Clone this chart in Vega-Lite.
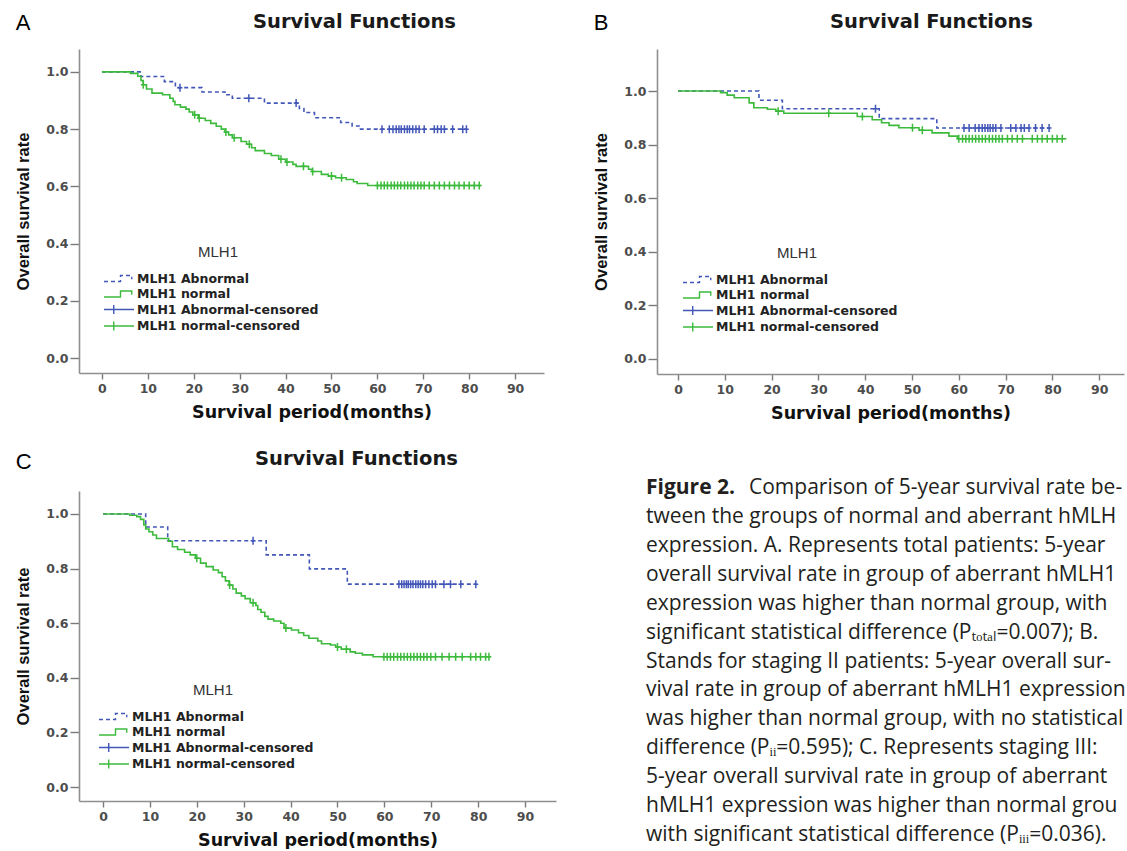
{
"$schema": "https://vega.github.io/schema/vega-lite/v6.json",
"background": "white",
"padding": {"left": 15, "top": 11, "right": 0, "bottom": 0},
"datasets": {
"km": [
{"panel":"A","series":"MLH1 Abnormal","time":0,"surv":1},
{"panel":"A","series":"MLH1 Abnormal","time":8.5,"surv":0.984},
{"panel":"A","series":"MLH1 Abnormal","time":13.6,"surv":0.966},
{"panel":"A","series":"MLH1 Abnormal","time":16,"surv":0.945},
{"panel":"A","series":"MLH1 Abnormal","time":21.8,"surv":0.93},
{"panel":"A","series":"MLH1 Abnormal","time":26.8,"surv":0.92},
{"panel":"A","series":"MLH1 Abnormal","time":28.4,"surv":0.908},
{"panel":"A","series":"MLH1 Abnormal","time":35.4,"surv":0.891},
{"panel":"A","series":"MLH1 Abnormal","time":43,"surv":0.872},
{"panel":"A","series":"MLH1 Abnormal","time":44,"surv":0.858},
{"panel":"A","series":"MLH1 Abnormal","time":46.3,"surv":0.84},
{"panel":"A","series":"MLH1 Abnormal","time":52,"surv":0.823},
{"panel":"A","series":"MLH1 Abnormal","time":54.5,"surv":0.811},
{"panel":"A","series":"MLH1 Abnormal","time":56,"surv":0.8},
{"panel":"A","series":"MLH1 Abnormal","time":79.4,"surv":0.8},
{"panel":"A","series":"MLH1 Abnormal-censored","time":17,"surv":0.945},
{"panel":"A","series":"MLH1 Abnormal-censored","time":32,"surv":0.908},
{"panel":"A","series":"MLH1 Abnormal-censored","time":42.3,"surv":0.891},
{"panel":"A","series":"MLH1 Abnormal-censored","time":61,"surv":0.8},
{"panel":"A","series":"MLH1 Abnormal-censored","time":62.6,"surv":0.8},
{"panel":"A","series":"MLH1 Abnormal-censored","time":63.4,"surv":0.8},
{"panel":"A","series":"MLH1 Abnormal-censored","time":64.1,"surv":0.8},
{"panel":"A","series":"MLH1 Abnormal-censored","time":64.7,"surv":0.8},
{"panel":"A","series":"MLH1 Abnormal-censored","time":65.2,"surv":0.8},
{"panel":"A","series":"MLH1 Abnormal-censored","time":65.9,"surv":0.8},
{"panel":"A","series":"MLH1 Abnormal-censored","time":66.5,"surv":0.8},
{"panel":"A","series":"MLH1 Abnormal-censored","time":67,"surv":0.8},
{"panel":"A","series":"MLH1 Abnormal-censored","time":67.7,"surv":0.8},
{"panel":"A","series":"MLH1 Abnormal-censored","time":68.4,"surv":0.8},
{"panel":"A","series":"MLH1 Abnormal-censored","time":69.1,"surv":0.8},
{"panel":"A","series":"MLH1 Abnormal-censored","time":70.2,"surv":0.8},
{"panel":"A","series":"MLH1 Abnormal-censored","time":72.4,"surv":0.8},
{"panel":"A","series":"MLH1 Abnormal-censored","time":73.1,"surv":0.8},
{"panel":"A","series":"MLH1 Abnormal-censored","time":73.9,"surv":0.8},
{"panel":"A","series":"MLH1 Abnormal-censored","time":74.6,"surv":0.8},
{"panel":"A","series":"MLH1 Abnormal-censored","time":76.4,"surv":0.8},
{"panel":"A","series":"MLH1 Abnormal-censored","time":78.6,"surv":0.8},
{"panel":"A","series":"MLH1 Abnormal-censored","time":79.4,"surv":0.8},
{"panel":"A","series":"MLH1 normal","time":0,"surv":1},
{"panel":"A","series":"MLH1 normal","time":6.2,"surv":0.995},
{"panel":"A","series":"MLH1 normal","time":7.8,"surv":0.985},
{"panel":"A","series":"MLH1 normal","time":8.5,"surv":0.97},
{"panel":"A","series":"MLH1 normal","time":9,"surv":0.955},
{"panel":"A","series":"MLH1 normal","time":9.7,"surv":0.94},
{"panel":"A","series":"MLH1 normal","time":10.9,"surv":0.926},
{"panel":"A","series":"MLH1 normal","time":13.2,"surv":0.92},
{"panel":"A","series":"MLH1 normal","time":14.8,"surv":0.908},
{"panel":"A","series":"MLH1 normal","time":15.5,"surv":0.897},
{"panel":"A","series":"MLH1 normal","time":15.9,"surv":0.885},
{"panel":"A","series":"MLH1 normal","time":17.1,"surv":0.877},
{"panel":"A","series":"MLH1 normal","time":18.3,"surv":0.87},
{"panel":"A","series":"MLH1 normal","time":19,"surv":0.86},
{"panel":"A","series":"MLH1 normal","time":19.8,"surv":0.85},
{"panel":"A","series":"MLH1 normal","time":21,"surv":0.838},
{"panel":"A","series":"MLH1 normal","time":22.5,"surv":0.83},
{"panel":"A","series":"MLH1 normal","time":23.7,"surv":0.82},
{"panel":"A","series":"MLH1 normal","time":24.9,"surv":0.81},
{"panel":"A","series":"MLH1 normal","time":26,"surv":0.8},
{"panel":"A","series":"MLH1 normal","time":26.8,"surv":0.79},
{"panel":"A","series":"MLH1 normal","time":27.6,"surv":0.78},
{"panel":"A","series":"MLH1 normal","time":28.4,"surv":0.77},
{"panel":"A","series":"MLH1 normal","time":30.3,"surv":0.757},
{"panel":"A","series":"MLH1 normal","time":31.5,"surv":0.747},
{"panel":"A","series":"MLH1 normal","time":32.6,"surv":0.735},
{"panel":"A","series":"MLH1 normal","time":33.4,"surv":0.725},
{"panel":"A","series":"MLH1 normal","time":35.4,"surv":0.715},
{"panel":"A","series":"MLH1 normal","time":36.9,"surv":0.708},
{"panel":"A","series":"MLH1 normal","time":38.5,"surv":0.695},
{"panel":"A","series":"MLH1 normal","time":40,"surv":0.685},
{"panel":"A","series":"MLH1 normal","time":41.6,"surv":0.677},
{"panel":"A","series":"MLH1 normal","time":42.3,"surv":0.67},
{"panel":"A","series":"MLH1 normal","time":45,"surv":0.66},
{"panel":"A","series":"MLH1 normal","time":45.8,"surv":0.652},
{"panel":"A","series":"MLH1 normal","time":47.8,"surv":0.642},
{"panel":"A","series":"MLH1 normal","time":49.3,"surv":0.636},
{"panel":"A","series":"MLH1 normal","time":50.9,"surv":0.63},
{"panel":"A","series":"MLH1 normal","time":53.2,"surv":0.624},
{"panel":"A","series":"MLH1 normal","time":54.8,"surv":0.616},
{"panel":"A","series":"MLH1 normal","time":55.6,"surv":0.61},
{"panel":"A","series":"MLH1 normal","time":57.9,"surv":0.603},
{"panel":"A","series":"MLH1 normal","time":82.6,"surv":0.603},
{"panel":"A","series":"MLH1 normal-censored","time":9,"surv":0.955},
{"panel":"A","series":"MLH1 normal-censored","time":20.2,"surv":0.85},
{"panel":"A","series":"MLH1 normal-censored","time":21.2,"surv":0.838},
{"panel":"A","series":"MLH1 normal-censored","time":27,"surv":0.79},
{"panel":"A","series":"MLH1 normal-censored","time":28.8,"surv":0.77},
{"panel":"A","series":"MLH1 normal-censored","time":32.1,"surv":0.747},
{"panel":"A","series":"MLH1 normal-censored","time":39,"surv":0.695},
{"panel":"A","series":"MLH1 normal-censored","time":40.3,"surv":0.685},
{"panel":"A","series":"MLH1 normal-censored","time":43.9,"surv":0.67},
{"panel":"A","series":"MLH1 normal-censored","time":45.9,"surv":0.652},
{"panel":"A","series":"MLH1 normal-censored","time":50,"surv":0.636},
{"panel":"A","series":"MLH1 normal-censored","time":52.2,"surv":0.63},
{"panel":"A","series":"MLH1 normal-censored","time":60,"surv":0.603},
{"panel":"A","series":"MLH1 normal-censored","time":60.8,"surv":0.603},
{"panel":"A","series":"MLH1 normal-censored","time":61.5,"surv":0.603},
{"panel":"A","series":"MLH1 normal-censored","time":62.2,"surv":0.603},
{"panel":"A","series":"MLH1 normal-censored","time":63,"surv":0.603},
{"panel":"A","series":"MLH1 normal-censored","time":63.7,"surv":0.603},
{"panel":"A","series":"MLH1 normal-censored","time":64.4,"surv":0.603},
{"panel":"A","series":"MLH1 normal-censored","time":65.1,"surv":0.603},
{"panel":"A","series":"MLH1 normal-censored","time":65.9,"surv":0.603},
{"panel":"A","series":"MLH1 normal-censored","time":66.6,"surv":0.603},
{"panel":"A","series":"MLH1 normal-censored","time":67.3,"surv":0.603},
{"panel":"A","series":"MLH1 normal-censored","time":68,"surv":0.603},
{"panel":"A","series":"MLH1 normal-censored","time":68.8,"surv":0.603},
{"panel":"A","series":"MLH1 normal-censored","time":69.5,"surv":0.603},
{"panel":"A","series":"MLH1 normal-censored","time":70.2,"surv":0.603},
{"panel":"A","series":"MLH1 normal-censored","time":71.3,"surv":0.603},
{"panel":"A","series":"MLH1 normal-censored","time":72.4,"surv":0.603},
{"panel":"A","series":"MLH1 normal-censored","time":73.5,"surv":0.603},
{"panel":"A","series":"MLH1 normal-censored","time":74.6,"surv":0.603},
{"panel":"A","series":"MLH1 normal-censored","time":75.7,"surv":0.603},
{"panel":"A","series":"MLH1 normal-censored","time":76.8,"surv":0.603},
{"panel":"A","series":"MLH1 normal-censored","time":77.8,"surv":0.603},
{"panel":"A","series":"MLH1 normal-censored","time":78.9,"surv":0.603},
{"panel":"A","series":"MLH1 normal-censored","time":80,"surv":0.603},
{"panel":"A","series":"MLH1 normal-censored","time":81.1,"surv":0.603},
{"panel":"A","series":"MLH1 normal-censored","time":82.2,"surv":0.603},
{"panel":"B","series":"MLH1 Abnormal","time":0,"surv":1},
{"panel":"B","series":"MLH1 Abnormal","time":17.3,"surv":0.966},
{"panel":"B","series":"MLH1 Abnormal","time":22.3,"surv":0.934},
{"panel":"B","series":"MLH1 Abnormal","time":43,"surv":0.897},
{"panel":"B","series":"MLH1 Abnormal","time":55.3,"surv":0.862},
{"panel":"B","series":"MLH1 Abnormal","time":79.4,"surv":0.862},
{"panel":"B","series":"MLH1 Abnormal-censored","time":42.2,"surv":0.934},
{"panel":"B","series":"MLH1 Abnormal-censored","time":61.1,"surv":0.862},
{"panel":"B","series":"MLH1 Abnormal-censored","time":62.2,"surv":0.862},
{"panel":"B","series":"MLH1 Abnormal-censored","time":63.5,"surv":0.862},
{"panel":"B","series":"MLH1 Abnormal-censored","time":64.3,"surv":0.862},
{"panel":"B","series":"MLH1 Abnormal-censored","time":65,"surv":0.862},
{"panel":"B","series":"MLH1 Abnormal-censored","time":65.6,"surv":0.862},
{"panel":"B","series":"MLH1 Abnormal-censored","time":66.2,"surv":0.862},
{"panel":"B","series":"MLH1 Abnormal-censored","time":66.7,"surv":0.862},
{"panel":"B","series":"MLH1 Abnormal-censored","time":67.3,"surv":0.862},
{"panel":"B","series":"MLH1 Abnormal-censored","time":67.9,"surv":0.862},
{"panel":"B","series":"MLH1 Abnormal-censored","time":69,"surv":0.862},
{"panel":"B","series":"MLH1 Abnormal-censored","time":71.1,"surv":0.862},
{"panel":"B","series":"MLH1 Abnormal-censored","time":72.2,"surv":0.862},
{"panel":"B","series":"MLH1 Abnormal-censored","time":73.3,"surv":0.862},
{"panel":"B","series":"MLH1 Abnormal-censored","time":74,"surv":0.862},
{"panel":"B","series":"MLH1 Abnormal-censored","time":75,"surv":0.862},
{"panel":"B","series":"MLH1 Abnormal-censored","time":76.4,"surv":0.862},
{"panel":"B","series":"MLH1 Abnormal-censored","time":77.8,"surv":0.862},
{"panel":"B","series":"MLH1 Abnormal-censored","time":79.3,"surv":0.862},
{"panel":"B","series":"MLH1 normal","time":0,"surv":1},
{"panel":"B","series":"MLH1 normal","time":9.1,"surv":0.994},
{"panel":"B","series":"MLH1 normal","time":10.5,"surv":0.985},
{"panel":"B","series":"MLH1 normal","time":12,"surv":0.975},
{"panel":"B","series":"MLH1 normal","time":15.2,"surv":0.956},
{"panel":"B","series":"MLH1 normal","time":16.2,"surv":0.938},
{"panel":"B","series":"MLH1 normal","time":19.1,"surv":0.932},
{"panel":"B","series":"MLH1 normal","time":20.9,"surv":0.925},
{"panel":"B","series":"MLH1 normal","time":22.6,"surv":0.917},
{"panel":"B","series":"MLH1 normal","time":38.3,"surv":0.905},
{"panel":"B","series":"MLH1 normal","time":41.5,"surv":0.893},
{"panel":"B","series":"MLH1 normal","time":43.5,"surv":0.882},
{"panel":"B","series":"MLH1 normal","time":45.1,"surv":0.872},
{"panel":"B","series":"MLH1 normal","time":47.2,"surv":0.863},
{"panel":"B","series":"MLH1 normal","time":51.5,"surv":0.854},
{"panel":"B","series":"MLH1 normal","time":54.3,"surv":0.844},
{"panel":"B","series":"MLH1 normal","time":57.9,"surv":0.832},
{"panel":"B","series":"MLH1 normal","time":59.7,"surv":0.822},
{"panel":"B","series":"MLH1 normal","time":83,"surv":0.822},
{"panel":"B","series":"MLH1 normal-censored","time":21.4,"surv":0.925},
{"panel":"B","series":"MLH1 normal-censored","time":32.2,"surv":0.917},
{"panel":"B","series":"MLH1 normal-censored","time":39.4,"surv":0.905},
{"panel":"B","series":"MLH1 normal-censored","time":50.1,"surv":0.863},
{"panel":"B","series":"MLH1 normal-censored","time":52.2,"surv":0.854},
{"panel":"B","series":"MLH1 normal-censored","time":60,"surv":0.822},
{"panel":"B","series":"MLH1 normal-censored","time":60.8,"surv":0.822},
{"panel":"B","series":"MLH1 normal-censored","time":61.5,"surv":0.822},
{"panel":"B","series":"MLH1 normal-censored","time":62.2,"surv":0.822},
{"panel":"B","series":"MLH1 normal-censored","time":62.9,"surv":0.822},
{"panel":"B","series":"MLH1 normal-censored","time":63.6,"surv":0.822},
{"panel":"B","series":"MLH1 normal-censored","time":64.3,"surv":0.822},
{"panel":"B","series":"MLH1 normal-censored","time":65,"surv":0.822},
{"panel":"B","series":"MLH1 normal-censored","time":65.7,"surv":0.822},
{"panel":"B","series":"MLH1 normal-censored","time":66.5,"surv":0.822},
{"panel":"B","series":"MLH1 normal-censored","time":67.2,"surv":0.822},
{"panel":"B","series":"MLH1 normal-censored","time":67.9,"surv":0.822},
{"panel":"B","series":"MLH1 normal-censored","time":68.6,"surv":0.822},
{"panel":"B","series":"MLH1 normal-censored","time":69.3,"surv":0.822},
{"panel":"B","series":"MLH1 normal-censored","time":70.4,"surv":0.822},
{"panel":"B","series":"MLH1 normal-censored","time":71.4,"surv":0.822},
{"panel":"B","series":"MLH1 normal-censored","time":72.5,"surv":0.822},
{"panel":"B","series":"MLH1 normal-censored","time":73.6,"surv":0.822},
{"panel":"B","series":"MLH1 normal-censored","time":75.7,"surv":0.822},
{"panel":"B","series":"MLH1 normal-censored","time":76.8,"surv":0.822},
{"panel":"B","series":"MLH1 normal-censored","time":77.8,"surv":0.822},
{"panel":"B","series":"MLH1 normal-censored","time":78.9,"surv":0.822},
{"panel":"B","series":"MLH1 normal-censored","time":80,"surv":0.822},
{"panel":"B","series":"MLH1 normal-censored","time":81,"surv":0.822},
{"panel":"B","series":"MLH1 normal-censored","time":82.1,"surv":0.822},
{"panel":"C","series":"MLH1 Abnormal","time":0,"surv":1},
{"panel":"C","series":"MLH1 Abnormal","time":9.1,"surv":0.952},
{"panel":"C","series":"MLH1 Abnormal","time":13.8,"surv":0.902},
{"panel":"C","series":"MLH1 Abnormal","time":34.8,"surv":0.85},
{"panel":"C","series":"MLH1 Abnormal","time":44,"surv":0.799},
{"panel":"C","series":"MLH1 Abnormal","time":52.1,"surv":0.743},
{"panel":"C","series":"MLH1 Abnormal","time":79.5,"surv":0.743},
{"panel":"C","series":"MLH1 Abnormal-censored","time":32,"surv":0.902},
{"panel":"C","series":"MLH1 Abnormal-censored","time":63.1,"surv":0.743},
{"panel":"C","series":"MLH1 Abnormal-censored","time":63.7,"surv":0.743},
{"panel":"C","series":"MLH1 Abnormal-censored","time":64.2,"surv":0.743},
{"panel":"C","series":"MLH1 Abnormal-censored","time":64.7,"surv":0.743},
{"panel":"C","series":"MLH1 Abnormal-censored","time":65.1,"surv":0.743},
{"panel":"C","series":"MLH1 Abnormal-censored","time":65.6,"surv":0.743},
{"panel":"C","series":"MLH1 Abnormal-censored","time":66.1,"surv":0.743},
{"panel":"C","series":"MLH1 Abnormal-censored","time":66.7,"surv":0.743},
{"panel":"C","series":"MLH1 Abnormal-censored","time":67.2,"surv":0.743},
{"panel":"C","series":"MLH1 Abnormal-censored","time":67.7,"surv":0.743},
{"panel":"C","series":"MLH1 Abnormal-censored","time":68.2,"surv":0.743},
{"panel":"C","series":"MLH1 Abnormal-censored","time":68.8,"surv":0.743},
{"panel":"C","series":"MLH1 Abnormal-censored","time":69.5,"surv":0.743},
{"panel":"C","series":"MLH1 Abnormal-censored","time":70.2,"surv":0.743},
{"panel":"C","series":"MLH1 Abnormal-censored","time":70.9,"surv":0.743},
{"panel":"C","series":"MLH1 Abnormal-censored","time":72.7,"surv":0.743},
{"panel":"C","series":"MLH1 Abnormal-censored","time":74.1,"surv":0.743},
{"panel":"C","series":"MLH1 Abnormal-censored","time":76.3,"surv":0.743},
{"panel":"C","series":"MLH1 Abnormal-censored","time":79.5,"surv":0.743},
{"panel":"C","series":"MLH1 normal","time":0,"surv":1},
{"panel":"C","series":"MLH1 normal","time":5.7,"surv":0.995},
{"panel":"C","series":"MLH1 normal","time":7.2,"surv":0.99},
{"panel":"C","series":"MLH1 normal","time":8,"surv":0.98},
{"panel":"C","series":"MLH1 normal","time":8.7,"surv":0.96},
{"panel":"C","series":"MLH1 normal","time":9.1,"surv":0.945},
{"panel":"C","series":"MLH1 normal","time":9.8,"surv":0.935},
{"panel":"C","series":"MLH1 normal","time":10.6,"surv":0.923},
{"panel":"C","series":"MLH1 normal","time":11.4,"surv":0.91},
{"panel":"C","series":"MLH1 normal","time":14,"surv":0.9},
{"panel":"C","series":"MLH1 normal","time":14.8,"surv":0.88},
{"panel":"C","series":"MLH1 normal","time":15.9,"surv":0.87},
{"panel":"C","series":"MLH1 normal","time":17.4,"surv":0.86},
{"panel":"C","series":"MLH1 normal","time":18.6,"surv":0.85},
{"panel":"C","series":"MLH1 normal","time":19.7,"surv":0.838},
{"panel":"C","series":"MLH1 normal","time":20.8,"surv":0.82},
{"panel":"C","series":"MLH1 normal","time":22,"surv":0.807},
{"panel":"C","series":"MLH1 normal","time":23.5,"surv":0.795},
{"panel":"C","series":"MLH1 normal","time":24.6,"surv":0.785},
{"panel":"C","series":"MLH1 normal","time":25.4,"surv":0.77},
{"panel":"C","series":"MLH1 normal","time":26.1,"surv":0.755},
{"panel":"C","series":"MLH1 normal","time":26.9,"surv":0.74},
{"panel":"C","series":"MLH1 normal","time":27.7,"surv":0.725},
{"panel":"C","series":"MLH1 normal","time":28.4,"surv":0.71},
{"panel":"C","series":"MLH1 normal","time":29.5,"surv":0.7},
{"panel":"C","series":"MLH1 normal","time":30.3,"surv":0.69},
{"panel":"C","series":"MLH1 normal","time":31.4,"surv":0.675},
{"panel":"C","series":"MLH1 normal","time":32.6,"surv":0.665},
{"panel":"C","series":"MLH1 normal","time":33,"surv":0.65},
{"panel":"C","series":"MLH1 normal","time":33.7,"surv":0.64},
{"panel":"C","series":"MLH1 normal","time":34.5,"surv":0.625},
{"panel":"C","series":"MLH1 normal","time":35.2,"surv":0.615},
{"panel":"C","series":"MLH1 normal","time":36.4,"surv":0.608},
{"panel":"C","series":"MLH1 normal","time":37.9,"surv":0.6},
{"panel":"C","series":"MLH1 normal","time":38.6,"surv":0.582},
{"panel":"C","series":"MLH1 normal","time":40.2,"surv":0.575},
{"panel":"C","series":"MLH1 normal","time":41.7,"surv":0.565},
{"panel":"C","series":"MLH1 normal","time":42.8,"surv":0.555},
{"panel":"C","series":"MLH1 normal","time":43.9,"surv":0.545},
{"panel":"C","series":"MLH1 normal","time":45.8,"surv":0.535},
{"panel":"C","series":"MLH1 normal","time":46.6,"surv":0.525},
{"panel":"C","series":"MLH1 normal","time":48.5,"surv":0.52},
{"panel":"C","series":"MLH1 normal","time":49.6,"surv":0.513},
{"panel":"C","series":"MLH1 normal","time":50.8,"surv":0.505},
{"panel":"C","series":"MLH1 normal","time":52.7,"surv":0.495},
{"panel":"C","series":"MLH1 normal","time":53.8,"surv":0.49},
{"panel":"C","series":"MLH1 normal","time":55.3,"surv":0.484},
{"panel":"C","series":"MLH1 normal","time":57.6,"surv":0.477},
{"panel":"C","series":"MLH1 normal","time":82.6,"surv":0.477},
{"panel":"C","series":"MLH1 normal-censored","time":20,"surv":0.838},
{"panel":"C","series":"MLH1 normal-censored","time":27,"surv":0.74},
{"panel":"C","series":"MLH1 normal-censored","time":32,"surv":0.675},
{"panel":"C","series":"MLH1 normal-censored","time":39,"surv":0.582},
{"panel":"C","series":"MLH1 normal-censored","time":50,"surv":0.513},
{"panel":"C","series":"MLH1 normal-censored","time":51.9,"surv":0.505},
{"panel":"C","series":"MLH1 normal-censored","time":59.9,"surv":0.477},
{"panel":"C","series":"MLH1 normal-censored","time":60.6,"surv":0.477},
{"panel":"C","series":"MLH1 normal-censored","time":61.3,"surv":0.477},
{"panel":"C","series":"MLH1 normal-censored","time":62,"surv":0.477},
{"panel":"C","series":"MLH1 normal-censored","time":62.8,"surv":0.477},
{"panel":"C","series":"MLH1 normal-censored","time":63.5,"surv":0.477},
{"panel":"C","series":"MLH1 normal-censored","time":64.2,"surv":0.477},
{"panel":"C","series":"MLH1 normal-censored","time":64.9,"surv":0.477},
{"panel":"C","series":"MLH1 normal-censored","time":65.6,"surv":0.477},
{"panel":"C","series":"MLH1 normal-censored","time":66.3,"surv":0.477},
{"panel":"C","series":"MLH1 normal-censored","time":67,"surv":0.477},
{"panel":"C","series":"MLH1 normal-censored","time":67.7,"surv":0.477},
{"panel":"C","series":"MLH1 normal-censored","time":68.4,"surv":0.477},
{"panel":"C","series":"MLH1 normal-censored","time":69.1,"surv":0.477},
{"panel":"C","series":"MLH1 normal-censored","time":69.9,"surv":0.477},
{"panel":"C","series":"MLH1 normal-censored","time":70.9,"surv":0.477},
{"panel":"C","series":"MLH1 normal-censored","time":72.3,"surv":0.477},
{"panel":"C","series":"MLH1 normal-censored","time":73.8,"surv":0.477},
{"panel":"C","series":"MLH1 normal-censored","time":75.2,"surv":0.477},
{"panel":"C","series":"MLH1 normal-censored","time":76.6,"surv":0.477},
{"panel":"C","series":"MLH1 normal-censored","time":78.4,"surv":0.477},
{"panel":"C","series":"MLH1 normal-censored","time":79.5,"surv":0.477},
{"panel":"C","series":"MLH1 normal-censored","time":80.5,"surv":0.477},
{"panel":"C","series":"MLH1 normal-censored","time":81.6,"surv":0.477},
{"panel":"C","series":"MLH1 normal-censored","time":82.3,"surv":0.477}
],
"caption": [
{"line":2,"text":"tween the groups of normal and aberrant hMLH1"},
{"line":3,"text":"expression. A. Represents total patients: 5-year"},
{"line":4,"text":"overall survival rate in group of aberrant hMLH1"},
{"line":5,"text":"expression was higher than normal group, with"},
{"line":6,"text":"significant statistical difference (P\u209c\u2092\u209c\u2090\u2097=0.007); B."},
{"line":7,"text":"Stands for staging II patients: 5-year overall sur-"},
{"line":8,"text":"vival rate in group of aberrant hMLH1 expression"},
{"line":9,"text":"was higher than normal group, with no statistical"},
{"line":10,"text":"difference (P\u1d62\u1d62=0.595); C. Represents staging III:"},
{"line":11,"text":"5-year overall survival rate in group of aberrant"},
{"line":12,"text":"hMLH1 expression was higher than normal group,"},
{"line":13,"text":"with significant statistical difference (P\u1d62\u1d62\u1d62=0.036)."}
],
"captionLead": [
{"line":1,"text":"Comparison of 5-year survival rate be-"}
],
"captionBold": [
{"line":1,"text":"Figure 2."}
]
},
"config": {
"view": {"stroke": null},
"font": "Liberation Sans",
"title": {"font": "DejaVu Sans", "fontSize": 19.5, "fontWeight": "bold", "color": "#1a1a1a"},
"axis": {"grid": false, "domainColor": "#8f8f8f", "domainWidth": 1.6, "tickColor": "#7a7a7a", "tickWidth": 1.4, "labelFont": "DejaVu Sans", "labelFontWeight": "bold", "labelFontSize": 12.5, "labelColor": "#4d4d4d", "titleColor": "#111111"},
"axisX": {"tickSize": 6, "labelPadding": 3, "titleFont": "DejaVu Sans", "titleFontSize": 17.5, "titleFontWeight": "bold", "titlePadding": 9},
"axisY": {"tickSize": 9, "labelPadding": 2, "titleFont": "Liberation Sans", "titleFontSize": 16.5, "titleFontWeight": "bold", "titlePadding": 14},
"legend": {"orient": "none", "direction": "vertical", "padding": 0, "titleAnchor": "middle", "titlePadding": 10, "titleFont": "Liberation Sans", "titleFontSize": 15, "titleFontWeight": "normal", "titleColor": "#333333", "labelFont": "DejaVu Sans", "labelFontSize": 12.5, "labelFontWeight": "bold", "labelColor": "#222222", "labelOffset": 2, "labelLimit": 300, "symbolSize": 225, "symbolStrokeWidth": 1.4, "symbolFillColor": "transparent", "rowPadding": 0.5}
},
"resolve": {"scale": {"color": "independent", "strokeDash": "independent", "shape": "independent"}, "legend": {"color": "independent", "strokeDash": "independent", "shape": "independent"}},
"spacing": 26,
"vconcat": [
{
"spacing": 49,
"resolve": {"scale": {"color": "independent", "strokeDash": "independent", "shape": "independent"}, "legend": {"color": "independent", "strokeDash": "independent", "shape": "independent"}},
"hconcat": [
{
"title": {"text": "A", "anchor": "start", "frame": "bounds", "dy": 27, "fontSize": 22, "font": "Liberation Sans", "fontWeight": "normal", "color": "#000000"},
"vconcat": [
{
"width": 465, "height": 324,
"title": {"text": "Survival Functions", "frame": "group", "anchor": "middle", "dx": 43, "offset": 17},
"data": {"name": "km"},
"transform": [{"filter": {"field": "panel", "equal": "A"}}],
"encoding": {
"x": {"field": "time", "type": "quantitative", "scale": {"domain": [-5, 96.3], "nice": false, "zero": false}, "axis": {"values": [0,10,20,30,40,50,60,70,80,90], "title": "Survival period(months)"}},
"y": {"field": "surv", "type": "quantitative", "scale": {"domain": [-0.052, 1.08], "nice": false, "zero": false}, "axis": {"values": [0,0.2,0.4,0.6,0.8,1], "format": ".1f", "title": "Overall survival rate"}},
"color": {"field": "series", "type": "nominal", "scale": {"domain": ["MLH1 Abnormal","MLH1 normal","MLH1 Abnormal-censored","MLH1 normal-censored"], "range": ["#4257b8","#3cba3c","#4257b8","#3cba3c"]}, "legend": {"title": "MLH1", "legendX": 39, "legendY": 196}}
},
"layer": [
{"transform": [{"filter": {"field": "series", "oneOf": ["MLH1 Abnormal","MLH1 normal"]}}], "mark": {"type": "line", "interpolate": "step-after", "strokeWidth": 1.6}, "encoding": {"strokeDash": {"field": "series", "type": "nominal", "scale": {"domain": ["MLH1 Abnormal","MLH1 normal","MLH1 Abnormal-censored","MLH1 normal-censored"], "range": [[4,3],[1,0],[1,0],[1,0]]}, "legend": {"title": "MLH1", "legendX": 39, "legendY": 196}}}},
{"transform": [{"filter": {"field": "series", "oneOf": ["MLH1 Abnormal-censored","MLH1 normal-censored"]}}], "mark": {"type": "point", "shape": "M0,-1V1M-0.6,0H0.6", "filled": false, "size": 64, "strokeWidth": 1.5, "opacity": 1}},
{"transform": [{"filter": {"field": "series", "equal": "none"}}], "mark": {"type": "point", "filled": false, "strokeWidth": 1.4, "opacity": 1}, "encoding": {"shape": {"field": "series", "type": "nominal", "scale": {"domain": ["MLH1 Abnormal","MLH1 normal","MLH1 Abnormal-censored","MLH1 normal-censored"], "range": ["M-3,0.4H-0.8V-0.4H0.7V0.1","M-3,0.4H-0.8V-0.4H0.7V0.1","M-3,0H1M-1.7,-0.6V0.6","M-3,0H1M-1.7,-0.6V0.6"]}, "legend": {"title": "MLH1", "legendX": 39, "legendY": 196}}}}
]
}
]
},
{
"title": {"text": "B", "anchor": "start", "frame": "bounds", "dy": 27, "fontSize": 22, "font": "Liberation Sans", "fontWeight": "normal", "color": "#000000"},
"vconcat": [
{
"width": 467, "height": 325,
"title": {"text": "Survival Functions", "frame": "group", "anchor": "middle", "dx": 41, "offset": 17},
"data": {"name": "km"},
"transform": [{"filter": {"field": "panel", "equal": "B"}}],
"encoding": {
"x": {"field": "time", "type": "quantitative", "scale": {"domain": [-4.49, 95.3], "nice": false, "zero": false}, "axis": {"values": [0,10,20,30,40,50,60,70,80,90], "title": "Survival period(months)"}},
"y": {"field": "surv", "type": "quantitative", "scale": {"domain": [-0.056, 1.157], "nice": false, "zero": false}, "axis": {"values": [0,0.2,0.4,0.6,0.8,1], "format": ".1f", "title": "Overall survival rate"}},
"color": {"field": "series", "type": "nominal", "scale": {"domain": ["MLH1 Abnormal","MLH1 normal","MLH1 Abnormal-censored","MLH1 normal-censored"], "range": ["#4257b8","#3cba3c","#4257b8","#3cba3c"]}, "legend": {"title": "MLH1", "legendX": 40, "legendY": 197}}
},
"layer": [
{"transform": [{"filter": {"field": "series", "oneOf": ["MLH1 Abnormal","MLH1 normal"]}}], "mark": {"type": "line", "interpolate": "step-after", "strokeWidth": 1.6}, "encoding": {"strokeDash": {"field": "series", "type": "nominal", "scale": {"domain": ["MLH1 Abnormal","MLH1 normal","MLH1 Abnormal-censored","MLH1 normal-censored"], "range": [[4,3],[1,0],[1,0],[1,0]]}, "legend": {"title": "MLH1", "legendX": 40, "legendY": 197}}}},
{"transform": [{"filter": {"field": "series", "oneOf": ["MLH1 Abnormal-censored","MLH1 normal-censored"]}}], "mark": {"type": "point", "shape": "M0,-1V1M-0.6,0H0.6", "filled": false, "size": 64, "strokeWidth": 1.5, "opacity": 1}},
{"transform": [{"filter": {"field": "series", "equal": "none"}}], "mark": {"type": "point", "filled": false, "strokeWidth": 1.4, "opacity": 1}, "encoding": {"shape": {"field": "series", "type": "nominal", "scale": {"domain": ["MLH1 Abnormal","MLH1 normal","MLH1 Abnormal-censored","MLH1 normal-censored"], "range": ["M-3,0.4H-0.8V-0.4H0.7V0.1","M-3,0.4H-0.8V-0.4H0.7V0.1","M-3,0H1M-1.7,-0.6V0.6","M-3,0H1M-1.7,-0.6V0.6"]}, "legend": {"title": "MLH1", "legendX": 40, "legendY": 197}}}}
]
}
]
}
]
},
{
"spacing": 89,
"resolve": {"scale": {"color": "independent", "strokeDash": "independent", "shape": "independent"}, "legend": {"color": "independent", "strokeDash": "independent", "shape": "independent"}},
"hconcat": [
{
"title": {"text": "C", "anchor": "start", "frame": "bounds", "dy": 29, "fontSize": 22, "font": "Liberation Sans", "fontWeight": "normal", "color": "#000000"},
"vconcat": [
{
"width": 477, "height": 310,
"title": {"text": "Survival Functions", "frame": "group", "anchor": "middle", "dx": 39, "offset": 22},
"data": {"name": "km"},
"transform": [{"filter": {"field": "panel", "equal": "C"}}],
"encoding": {
"x": {"field": "time", "type": "quantitative", "scale": {"domain": [-5.12, 96.6], "nice": false, "zero": false}, "axis": {"values": [0,10,20,30,40,50,60,70,80,90], "title": "Survival period(months)"}},
"y": {"field": "surv", "type": "quantitative", "scale": {"domain": [-0.051, 1.084], "nice": false, "zero": false}, "axis": {"values": [0,0.2,0.4,0.6,0.8,1], "format": ".1f", "title": "Overall survival rate"}},
"color": {"field": "series", "type": "nominal", "scale": {"domain": ["MLH1 Abnormal","MLH1 normal","MLH1 Abnormal-censored","MLH1 normal-censored"], "range": ["#4257b8","#3cba3c","#4257b8","#3cba3c"]}, "legend": {"title": "MLH1", "legendX": 34, "legendY": 192}}
},
"layer": [
{"transform": [{"filter": {"field": "series", "oneOf": ["MLH1 Abnormal","MLH1 normal"]}}], "mark": {"type": "line", "interpolate": "step-after", "strokeWidth": 1.6}, "encoding": {"strokeDash": {"field": "series", "type": "nominal", "scale": {"domain": ["MLH1 Abnormal","MLH1 normal","MLH1 Abnormal-censored","MLH1 normal-censored"], "range": [[4,3],[1,0],[1,0],[1,0]]}, "legend": {"title": "MLH1", "legendX": 34, "legendY": 192}}}},
{"transform": [{"filter": {"field": "series", "oneOf": ["MLH1 Abnormal-censored","MLH1 normal-censored"]}}], "mark": {"type": "point", "shape": "M0,-1V1M-0.6,0H0.6", "filled": false, "size": 64, "strokeWidth": 1.5, "opacity": 1}},
{"transform": [{"filter": {"field": "series", "equal": "none"}}], "mark": {"type": "point", "filled": false, "strokeWidth": 1.4, "opacity": 1}, "encoding": {"shape": {"field": "series", "type": "nominal", "scale": {"domain": ["MLH1 Abnormal","MLH1 normal","MLH1 Abnormal-censored","MLH1 normal-censored"], "range": ["M-3,0.4H-0.8V-0.4H0.7V0.1","M-3,0.4H-0.8V-0.4H0.7V0.1","M-3,0H1M-1.7,-0.6V0.6","M-3,0H1M-1.7,-0.6V0.6"]}, "legend": {"title": "MLH1", "legendX": 34, "legendY": 192}}}}
]
}
]
},
{
"width": 2, "height": 340,
"data": {"name": "caption"},
"encoding": {"y": {"field": "line", "type": "ordinal", "scale": {"type": "point", "range": [-3, 344], "padding": 0}, "axis": null}},
"layer": [
{"mark": {"type": "text", "align": "left", "baseline": "middle", "font": "Open Sans", "fontSize": 21, "color": "#231f20", "limit": 482, "ellipsis": "\u200b"}, "encoding": {"text": {"field": "text"}}},
{"data": {"name": "captionLead"}, "mark": {"type": "text", "align": "left", "baseline": "middle", "dx": 103, "font": "Open Sans", "fontSize": 21, "color": "#231f20", "limit": 379, "ellipsis": "\u200b"}, "encoding": {"text": {"field": "text"}}},
{"data": {"name": "captionBold"}, "mark": {"type": "text", "align": "left", "baseline": "middle", "font": "Open Sans", "fontSize": 21, "fontWeight": "bold", "color": "#231f20"}, "encoding": {"text": {"field": "text"}}}
]
}
]
}
]
}
